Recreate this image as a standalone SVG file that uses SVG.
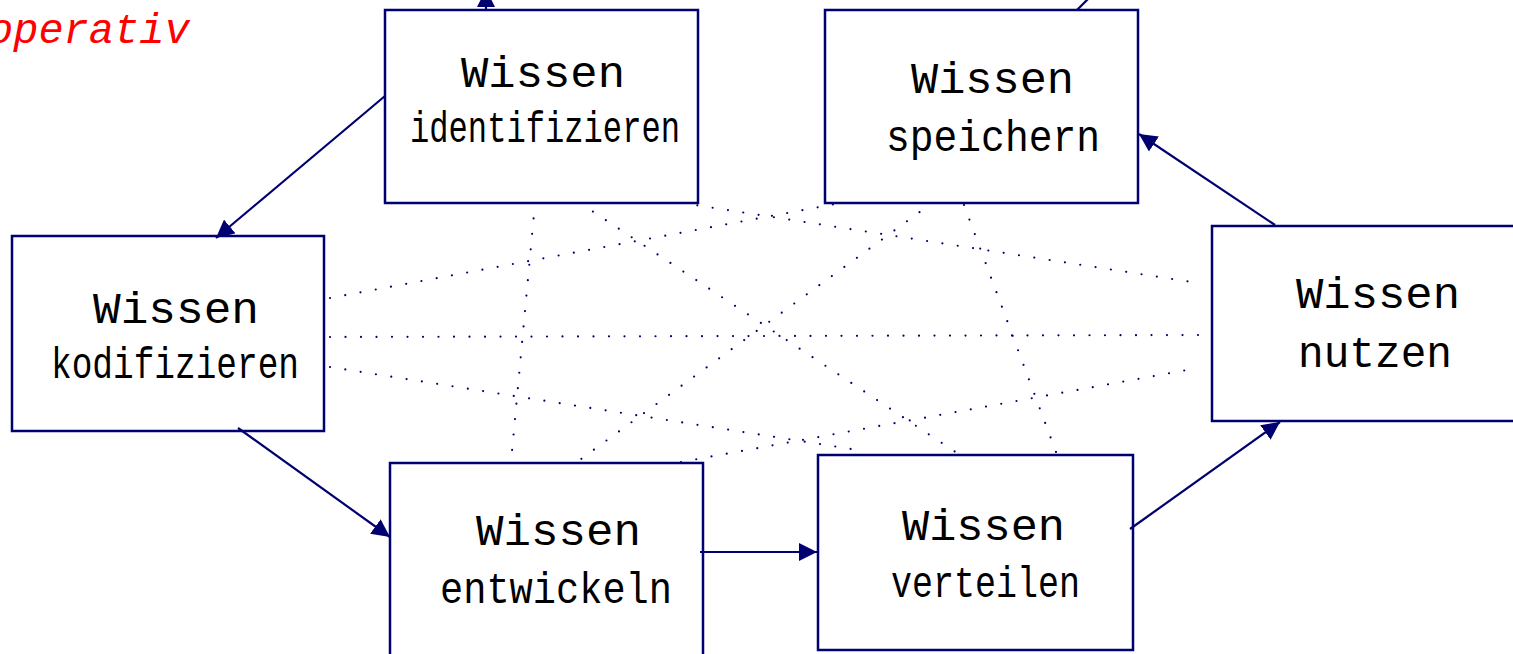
<svg xmlns="http://www.w3.org/2000/svg" width="1513" height="654" viewBox="0 0 1513 654">
<style>
.box{fill:#ffffff;stroke:#000070;stroke-width:2.5}
.lbl{font-family:"Liberation Mono","Courier New",monospace;font-size:44px;fill:#000000}
.arrow{stroke:#000070;stroke-width:2.2;fill:none}
.dot{stroke:#000070;stroke-width:2.2;stroke-linecap:round;stroke-dasharray:0 15.5;fill:none}
.title{font-family:"Liberation Mono","Courier New",monospace;font-size:42px;font-style:italic;fill:#ff0000}
</style>
<defs>
<marker id="ah" markerUnits="userSpaceOnUse" markerWidth="19" markerHeight="18" refX="18" refY="9" orient="auto">
<path d="M0,0 L18,9 L0,18 z" fill="#000070"/>
</marker>
</defs>
<rect width="1513" height="654" fill="#ffffff"/>
<text class="title" x="-12" y="43">operativ</text>
<g id="n-identifizieren">
<rect class="box" x="385" y="10" width="313" height="193"/>
<text class="lbl" x="461" y="87" textLength="164" lengthAdjust="spacingAndGlyphs">Wissen</text>
<text class="lbl" x="410" y="142" textLength="270" lengthAdjust="spacingAndGlyphs">identifizieren</text>
</g>
<g id="n-speichern">
<rect class="box" x="825" y="10" width="313" height="193"/>
<text class="lbl" x="911" y="93" textLength="163" lengthAdjust="spacingAndGlyphs">Wissen</text>
<text class="lbl" x="886" y="151" textLength="214" lengthAdjust="spacingAndGlyphs">speichern</text>
</g>
<g id="n-kodifizieren">
<rect class="box" x="12" y="236" width="312" height="195"/>
<text class="lbl" x="93" y="323" textLength="166" lengthAdjust="spacingAndGlyphs">Wissen</text>
<text class="lbl" x="51" y="378" textLength="248" lengthAdjust="spacingAndGlyphs">kodifizieren</text>
</g>
<g id="n-nutzen">
<rect class="box" x="1212" y="226" width="310" height="195"/>
<text class="lbl" x="1296" y="308" textLength="164" lengthAdjust="spacingAndGlyphs">Wissen</text>
<text class="lbl" x="1298" y="367" textLength="154" lengthAdjust="spacingAndGlyphs">nutzen</text>
</g>
<g id="n-entwickeln">
<rect class="box" x="390" y="463" width="313" height="200"/>
<text class="lbl" x="476" y="545" textLength="165" lengthAdjust="spacingAndGlyphs">Wissen</text>
<text class="lbl" x="440" y="603" textLength="232" lengthAdjust="spacingAndGlyphs">entwickeln</text>
</g>
<g id="n-verteilen">
<rect class="box" x="818" y="455" width="315" height="195"/>
<text class="lbl" x="902" y="540" textLength="163" lengthAdjust="spacingAndGlyphs">Wissen</text>
<text class="lbl" x="891" y="597" textLength="189" lengthAdjust="spacingAndGlyphs">verteilen</text>
</g>
<g id="connectors">
<line class="dot" x1="535" y1="203" x2="511" y2="462"/>
<line class="dot" x1="580" y1="203" x2="960" y2="455"/>
<line class="dot" x1="682" y1="203" x2="1198" y2="283"/>
<line class="dot" x1="330" y1="298" x2="841" y2="203"/>
<line class="dot" x1="330" y1="337" x2="1204" y2="335"/>
<line class="dot" x1="330" y1="367" x2="864" y2="451"/>
<line class="dot" x1="932" y1="203" x2="577" y2="462"/>
<line class="dot" x1="964" y1="205" x2="1056" y2="452"/>
<line class="dot" x1="681" y1="462" x2="1198" y2="368"/>
<line class="arrow" x1="385" y1="96" x2="216" y2="238" marker-end="url(#ah)"/>
<line class="arrow" x1="238" y1="428" x2="390" y2="537" marker-end="url(#ah)"/>
<line class="arrow" x1="700" y1="552" x2="817" y2="552" marker-end="url(#ah)"/>
<line class="arrow" x1="1130" y1="529" x2="1280" y2="422" marker-end="url(#ah)"/>
<line class="arrow" x1="1275" y1="225" x2="1139" y2="134" marker-end="url(#ah)"/>
<line class="arrow" x1="486" y1="10" x2="486" y2="-11" marker-end="url(#ah)"/>
<line class="arrow" x1="1077" y1="10" x2="1090" y2="-3"/>
</g>
</svg>
